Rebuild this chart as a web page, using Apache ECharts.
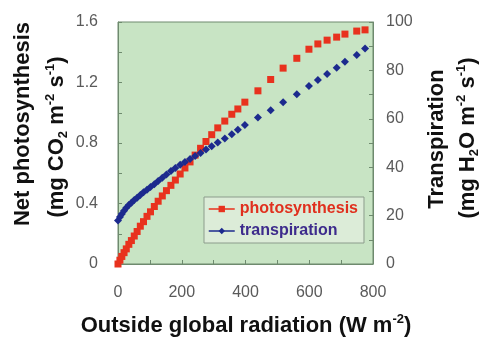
<!DOCTYPE html>
<html>
<head>
<meta charset="utf-8">
<script src="https://cdn.jsdelivr.net/npm/echarts@6/dist/echarts.min.js"></script>
<style>
  html, body { margin: 0; padding: 0; background: #fff; }
  #chart { width: 483px; height: 342px; }
</style>
</head>
<body>
<div id="chart"></div>
<script>
// outside global radiation (W m-2), shared by both series
const radiation = [0, 6, 12, 19, 26, 34, 42, 51, 60, 70, 80, 91, 102, 114, 126, 139, 152, 166, 180, 195,
  210, 226, 242, 259, 276, 294, 313, 335, 357, 376, 398, 439, 479, 518, 561, 599, 627, 656, 686, 712,
  749, 775, 801];
// net photosynthesis (mg CO2 m-2 s-1)
const photosynthesis = [0, 0.025, 0.05, 0.075, 0.10, 0.13, 0.155, 0.185, 0.215, 0.25, 0.28, 0.315, 0.345,
  0.38, 0.415, 0.45, 0.485, 0.52, 0.555, 0.595, 0.635, 0.675, 0.72, 0.765, 0.81, 0.855, 0.9, 0.945, 0.99,
  1.025, 1.07, 1.145, 1.22, 1.295, 1.36, 1.42, 1.455, 1.48, 1.50, 1.52, 1.54, 1.548, 1.555];
// transpiration (mg H2O m-2 s-1)
const transpiration = [18, 19.4, 20.7, 22, 23.2, 24.4, 25.3, 26.4, 27.4, 28.5, 29.6, 30.7, 31.8, 33, 34.3,
  35.6, 37, 38.4, 39.7, 41, 42.2, 43.4, 44.6, 45.9, 47.3, 48.7, 50.2, 51.9, 53.6, 55.5, 57.4, 60.5, 63.5,
  66.8, 70.1, 73.6, 76, 78.5, 81.1, 83.6, 86.4, 89, 92];

const xTicks = { min: 0, max: 800, interval: 200 };
const leftTicks = { min: 0, max: 1.6, interval: 0.4 };
const rightTicks = { min: 0, max: 100, interval: 20 };

const chart = echarts.init(document.getElementById('chart'));

const frame = '#6e8a6e';
const tickText = { color: '#5a5a5a', fontSize: 16, fontFamily: 'Liberation Sans' };
const titleFont = 'bold 22px "Liberation Sans", Arial, sans-serif';
const rich = {
  b: { fontSize: 22, fontWeight: 'bold', fontFamily: 'Liberation Sans', lineHeight: 26, fill: '#111' },
  sup: { fontSize: 13, fontWeight: 'bold', fontFamily: 'Liberation Sans', lineHeight: 26, verticalAlign: 'top', fill: '#111' },
  sub: { fontSize: 13, fontWeight: 'bold', fontFamily: 'Liberation Sans', lineHeight: 26, verticalAlign: 'bottom', fill: '#111' }
};

function title(x, y, rotation, text) {
  return {
    type: 'text', x: x, y: y, rotation: rotation, silent: true,
    style: { text: text, font: titleFont, fill: '#111', textAlign: 'center', textVerticalAlign: 'middle', rich: rich }
  };
}

const option = {
  animation: false,
  grid: {
    left: 118, right: 110, top: 22, bottom: 78,
    show: true, backgroundColor: '#c8e4c4', borderColor: frame, borderWidth: 1,
    outerBoundsMode: 'none'
  },
  legend: {
    orient: 'vertical',
    left: 204, top: 197,
    backgroundColor: '#dcecd8',
    borderColor: '#8c9c8c', borderWidth: 1, borderRadius: 0,
    padding: [4, 6, 4, 4],
    itemWidth: 26, itemHeight: 8, itemGap: 6,
    lineStyle: { width: 1.5, opacity: 1 },
    textStyle: { fontSize: 16, fontWeight: 'bold', fontFamily: 'Liberation Sans' },
    data: [
      { name: 'photosynthesis', textStyle: { color: '#e0301e' } },
      { name: 'transpiration', textStyle: { color: '#3d2b8c' } }
    ]
  },
  xAxis: {
    type: 'value', ...xTicks,
    axisLine: { show: true, lineStyle: { color: frame } },
    axisTick: { show: true, inside: true, length: 4, lineStyle: { color: frame } },
    minorTick: { show: true, splitNumber: 2, length: 4, lineStyle: { color: frame } },
    axisLabel: { ...tickText, margin: 21 },
    splitLine: { show: false }
  },
  yAxis: [
    {
      type: 'value', position: 'left', ...leftTicks,
      axisLine: { show: true, lineStyle: { color: frame } },
      axisTick: { show: true, inside: true, length: 4, lineStyle: { color: frame } },
      minorTick: { show: true, splitNumber: 2, length: 4, lineStyle: { color: frame } },
      axisLabel: { ...tickText, margin: 20, formatter: v => String(Math.round(v * 10) / 10) },
      splitLine: { show: false }
    },
    {
      type: 'value', position: 'right', ...rightTicks,
      axisLine: { show: true, lineStyle: { color: frame } },
      axisTick: { show: true, inside: true, length: 4, lineStyle: { color: frame } },
      minorTick: { show: true, splitNumber: 2, length: 4, lineStyle: { color: frame } },
      axisLabel: { ...tickText, margin: 13 },
      splitLine: { show: false }
    }
  ],
  series: [
    {
      name: 'photosynthesis', type: 'line', yAxisIndex: 0,
      data: radiation.map((x, i) => [x, photosynthesis[i]]),
      symbol: 'rect', symbolSize: 7, showSymbol: true,
      itemStyle: { color: '#e8321e' },
      lineStyle: { color: '#e8321e', width: 1.5, opacity: 0 }
    },
    {
      name: 'transpiration', type: 'line', yAxisIndex: 1,
      data: radiation.map((x, i) => [x, transpiration[i]]),
      symbol: 'diamond', symbolSize: 8, showSymbol: true,
      itemStyle: { color: '#1c2a8e' },
      lineStyle: { color: '#1c2a8e', width: 1.5, opacity: 0 }
    }
  ],
  graphic: [
    title(23, 124, Math.PI / 2, '{b|Net photosynthesis}'),
    title(57, 137, Math.PI / 2, '{b|(mg CO}{sub|2}{b| m}{sup|-2}{b| s}{sup|-1}{b|)}'),
    title(437, 139, Math.PI / 2, '{b|Transpiration}'),
    title(468, 138, Math.PI / 2, '{b|(mg H}{sub|2}{b|O m}{sup|-2}{b| s}{sup|-1}{b|)}'),
    title(246, 326, 0, '{b|Outside global radiation (W m}{sup|-2}{b|)}')
  ]
};

chart.setOption(option);
</script>
</body>
</html>
